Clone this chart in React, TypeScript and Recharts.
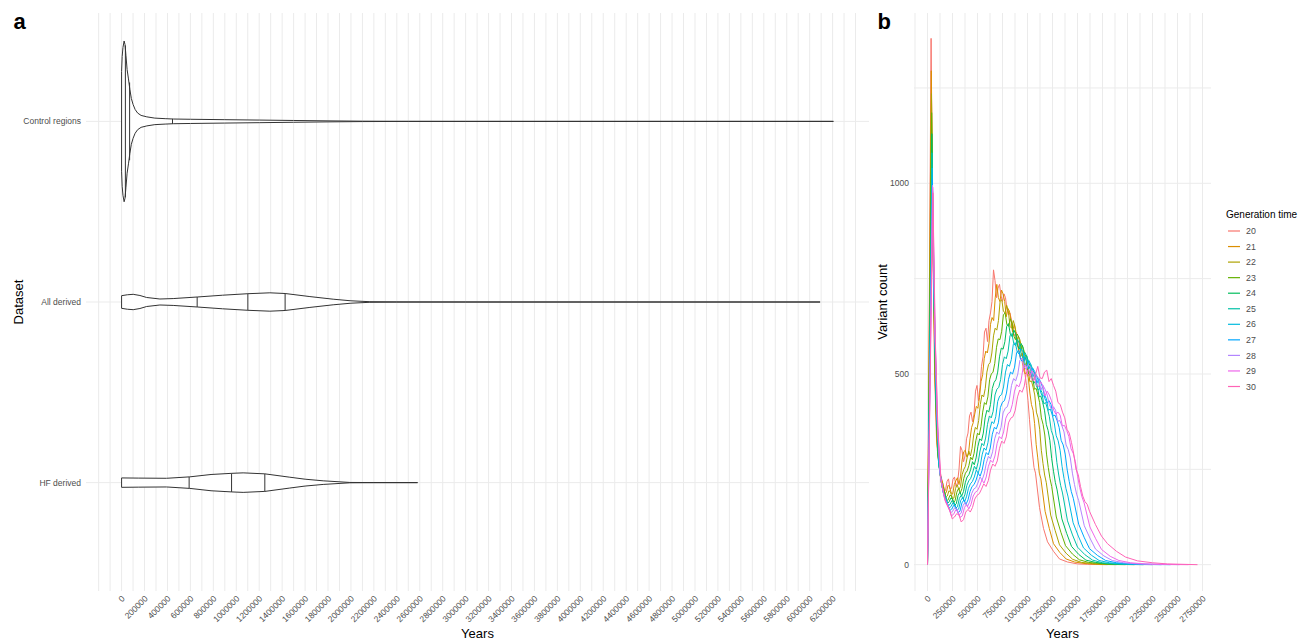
import React from 'react';
import { ComposedChart, LineChart, Line, Area, XAxis, YAxis, CartesianGrid } from 'recharts';

const FONT = '"Liberation Sans", Arial, Helvetica, sans-serif';
const TEXT_GREY = '#4D4D4D';
const GRID = '#EBEBEB';
const OUTLINE = '#333333';

// ---------- Panel a : violins ----------
const DATASETS = ['HF derived', 'All derived', 'Control regions']; // y positions 1,2,3
const YEARS_LABELS_A = [0, 200000, 400000, 600000, 800000, 1000000, 1200000, 1400000, 1600000, 1800000,
  2000000, 2200000, 2400000, 2600000, 2800000, 3000000, 3200000, 3400000, 3600000, 3800000, 4000000,
  4200000, 4400000, 4600000, 4800000, 5000000, 5200000, 5400000, 5600000, 5800000, 6000000, 6200000];

const CTRL_YEARS = [0, 5000, 12000, 22000, 30000, 38000, 48000, 60000, 72000, 85000, 100000, 118000, 140000,
  170000, 220000, 290000, 380000, 450000, 600000, 900000, 1200000, 1500000, 1800000, 2100000, 2500000, 3000000, 6207000];
const CTRL_HALF = [0.276, 0.359, 0.409, 0.445, 0.425, 0.365, 0.287, 0.235, 0.177, 0.127, 0.094, 0.066, 0.046,
  0.033, 0.025, 0.018, 0.015, 0.013, 0.0116, 0.0094, 0.0072, 0.005, 0.0028, 0.0011, 0.0003, 0, 0];
const CTRL_Q = [33000, 70000, 444000];
const CTRL_QW = [0.42, 0.215, 0.0135];

const ALL_YEARS = [0, 50000, 101000, 160000, 218000, 334000, 450000, 659000, 880000, 1101000, 1293000, 1426000,
  1642000, 1845000, 2000000, 2165000, 2400000, 3000000, 6091000];
const ALL_HALF = [0.035, 0.040, 0.0425, 0.036, 0.025, 0.0166, 0.019, 0.0276, 0.0376, 0.0459, 0.0508, 0.047,
  0.030, 0.0155, 0.0066, 0.0017, 0.0006, 0, 0];
const ALL_Q = [659000, 1101000, 1426000];
const ALL_QW = [0.0276, 0.0459, 0.047];

const HF_YEARS = [0, 150000, 392000, 595000, 780000, 959000, 1060000, 1249000, 1467000, 1600000, 1758000,
  1990000, 2200000, 2581000];
const HF_HALF = [0.026, 0.025, 0.024, 0.032, 0.045, 0.0514, 0.054, 0.0486, 0.030, 0.019, 0.010, 0.001, 0.0003, 0];
const HF_Q = [589000, 959000, 1249000];
const HF_QW = [0.0315, 0.0514, 0.0486];

// ---------- Panel b : variant counts ----------
const GEN_TIMES = [20, 21, 22, 23, 24, 25, 26, 27, 28, 29, 30];
const HUES = ['#F8766D', '#DB8E00', '#AEA200', '#64B200', '#00BD5C', '#00C1A7', '#00BADE', '#00A6FF', '#B385FF', '#EF67EB', '#FF63B6'];
// bin positions in thousands of generations (years = generations x generation time)
const GEN_K = [0, 1.8, 2.6, 3.5, 4.5, 6, 7.5, 8.25, 9, 9.75, 10.5, 11.25, 12, 12.75, 13.5, 14.25, 15, 15.75,
  16.5, 17.25, 18, 18.75, 19.5, 20.25, 21, 21.75, 22.5, 23.25, 24, 24.75, 25.5, 26.25, 27, 27.75, 28.5, 29.25,
  30, 30.75, 31.5, 32.25, 33, 33.75, 34.5, 35.25, 36, 36.75, 37.5, 38.25, 39, 39.75, 40.5, 41.25, 42, 42.75,
  43.5, 44.25, 45, 45.75, 46.5, 47.25, 48, 48.75, 49.5, 50.25, 51, 51.75, 52.5, 53.25, 54, 56, 58, 60, 63, 66,
  70, 75, 80, 90];
const COUNT_20 = [0, 1380, 880, 520, 330, 250, 215, 190, 195, 218, 225, 198, 200, 224, 230, 205, 215, 250, 310, 300, 270, 285, 330, 345, 390, 400, 375, 395, 455, 470, 430, 465, 520, 545, 610, 620, 585, 640, 660, 690, 773, 745, 700, 725, 735, 705, 690, 710, 700, 670, 655, 660, 640, 610, 600, 610, 590, 560, 540, 535, 510, 500, 470, 430, 380, 330, 290, 255, 240, 150, 95, 60, 35, 15, 7, 2, 1, 0];
const COUNT_21 = [0, 1295, 850, 500, 320, 235, 210, 185, 190, 208, 205, 188, 185, 210, 220, 228, 210, 232, 275, 296, 300, 282, 290, 330, 360, 372, 395, 415, 410, 438, 480, 498, 540, 560, 555, 580, 630, 648, 640, 700, 735, 700, 690, 720, 710, 690, 650, 672, 665, 642, 610, 630, 615, 580, 560, 545, 555, 535, 500, 505, 490, 450, 420, 405, 370, 315, 280, 240, 225, 140, 95, 55, 32, 15, 7, 3, 1, 0];
const COUNT_22 = [0, 1235, 810, 480, 300, 225, 200, 176, 180, 194, 190, 172, 175, 200, 210, 196, 205, 236, 250, 258, 280, 298, 285, 305, 340, 360, 355, 378, 420, 445, 440, 462, 505, 525, 530, 555, 600, 620, 615, 640, 690, 695, 665, 660, 680, 665, 625, 620, 640, 625, 585, 598, 590, 570, 535, 520, 530, 515, 480, 482, 465, 445, 400, 385, 355, 300, 265, 235, 215, 130, 90, 52, 30, 14, 6, 3, 1, 0];
const COUNT_23 = [0, 1185, 770, 455, 290, 215, 190, 168, 170, 182, 180, 162, 168, 190, 200, 188, 200, 226, 240, 246, 260, 282, 275, 292, 325, 345, 340, 362, 400, 425, 420, 440, 485, 500, 505, 528, 570, 592, 590, 612, 655, 660, 630, 625, 645, 632, 600, 590, 605, 596, 560, 575, 560, 545, 510, 495, 505, 492, 460, 462, 445, 425, 385, 368, 340, 290, 255, 226, 205, 125, 85, 50, 28, 13, 6, 3, 1, 0];
const COUNT_24 = [0, 1130, 735, 435, 275, 205, 180, 160, 165, 175, 172, 155, 160, 182, 190, 180, 192, 215, 230, 236, 250, 270, 262, 280, 310, 330, 325, 345, 385, 405, 400, 420, 462, 478, 485, 505, 545, 568, 565, 585, 625, 632, 605, 598, 615, 605, 575, 565, 580, 570, 535, 548, 535, 520, 490, 475, 482, 470, 440, 442, 425, 405, 368, 352, 325, 278, 245, 216, 196, 120, 82, 48, 27, 12, 6, 2, 1, 0];
const COUNT_25 = [0, 1080, 705, 420, 265, 198, 172, 154, 158, 168, 165, 148, 152, 174, 182, 172, 185, 208, 220, 226, 240, 258, 250, 268, 298, 318, 312, 332, 368, 390, 385, 402, 445, 460, 465, 485, 525, 545, 540, 560, 600, 606, 580, 574, 590, 580, 550, 542, 556, 546, 512, 525, 515, 500, 470, 458, 462, 452, 422, 425, 408, 388, 352, 338, 312, 268, 235, 208, 188, 115, 78, 46, 26, 12, 5, 2, 1, 0];
const COUNT_26 = [0, 1040, 680, 405, 255, 190, 165, 148, 152, 162, 158, 142, 146, 168, 176, 165, 178, 200, 212, 218, 230, 248, 240, 258, 288, 306, 300, 320, 355, 375, 370, 388, 428, 442, 446, 466, 505, 525, 520, 538, 578, 582, 558, 552, 566, 558, 528, 520, 535, 525, 492, 505, 495, 480, 452, 440, 445, 435, 405, 408, 392, 372, 338, 325, 300, 258, 226, 200, 180, 110, 75, 44, 25, 11, 5, 2, 1, 0];
const COUNT_27 = [0, 1010, 655, 390, 245, 183, 158, 142, 146, 156, 152, 136, 140, 162, 170, 158, 170, 192, 205, 210, 222, 240, 232, 248, 276, 294, 288, 306, 342, 360, 356, 372, 412, 426, 430, 450, 486, 505, 500, 518, 556, 562, 538, 532, 545, 538, 508, 502, 515, 506, 475, 488, 478, 462, 435, 424, 430, 420, 390, 392, 378, 360, 326, 314, 290, 248, 218, 192, 174, 106, 72, 42, 24, 11, 5, 2, 1, 0];
const COUNT_28 = [0, 995, 630, 375, 236, 176, 152, 136, 140, 150, 146, 130, 135, 156, 164, 152, 164, 186, 198, 202, 214, 230, 222, 238, 266, 284, 278, 296, 330, 348, 342, 360, 398, 410, 414, 434, 470, 488, 482, 500, 536, 542, 518, 512, 525, 518, 490, 484, 496, 488, 458, 470, 460, 445, 420, 408, 414, 405, 376, 378, 364, 348, 314, 302, 280, 240, 210, 185, 168, 102, 70, 41, 23, 11, 5, 2, 1, 0];
const COUNT_29 = [0, 990, 610, 362, 228, 170, 146, 128, 132, 144, 140, 124, 128, 150, 158, 146, 158, 180, 190, 194, 206, 222, 214, 230, 258, 274, 268, 285, 318, 336, 330, 348, 384, 396, 400, 420, 455, 472, 466, 482, 518, 524, 500, 495, 508, 500, 472, 466, 480, 470, 442, 455, 445, 430, 405, 395, 400, 392, 364, 365, 352, 336, 304, 292, 270, 232, 202, 178, 162, 99, 68, 40, 22, 11, 5, 2, 1, 0];
const COUNT_30 = [0, 975, 590, 350, 222, 165, 140, 120, 125, 134, 130, 112, 118, 138, 145, 138, 150, 172, 182, 186, 198, 212, 205, 220, 248, 264, 258, 272, 305, 324, 318, 335, 372, 384, 388, 405, 440, 458, 452, 468, 505, 512, 488, 482, 498, 520, 490, 488, 505, 510, 480, 488, 470, 455, 425, 420, 400, 385, 355, 345, 320, 290, 250, 236, 205, 180, 165, 158, 140, 105, 75, 55, 35, 20, 10, 5, 2, 0];
const COUNTS = [COUNT_20, COUNT_21, COUNT_22, COUNT_23, COUNT_24, COUNT_25, COUNT_26, COUNT_27, COUNT_28, COUNT_29, COUNT_30];

const YEARS_LABELS_B = [0, 250000, 500000, 750000, 1000000, 1250000, 1500000, 1750000, 2000000, 2250000, 2500000, 2750000];
const COUNT_LABELS_B = [0, 500, 1000];

// ---------- derived tables ----------
const GRID_A = [-200000, -100000, ...YEARS_LABELS_A.flatMap((v) => [v, v + 100000]), 6400000];
const GRID_B_X = [-125000, ...YEARS_LABELS_B.flatMap((v) => [v, v + 125000])].filter((v) => v <= 2800000);
const GRID_B_Y = [0, 250, 500, 750, 1000, 1250];

type Violin = { name: string; c: number; xs: number[]; hw: number[]; q: number[]; qw: number[] };
const VIOLINS: Violin[] = [
  { name: 'Control regions', c: 3, xs: CTRL_YEARS, hw: CTRL_HALF, q: CTRL_Q, qw: CTRL_QW },
  { name: 'All derived', c: 2, xs: ALL_YEARS, hw: ALL_HALF, q: ALL_Q, qw: ALL_QW },
  { name: 'HF derived', c: 1, xs: HF_YEARS, hw: HF_HALF, q: HF_Q, qw: HF_QW },
];

const violinFill = (v: Violin) => v.xs.map((x, i) => ({ x, r: [v.c - v.hw[i], v.c + v.hw[i]] }));
const violinOutline = (v: Violin) => {
  const upper = v.xs.map((x, i) => ({ x, y: v.c + v.hw[i] }));
  const lower = v.xs.map((x, i) => ({ x, y: v.c - v.hw[i] })).reverse();
  return [...upper, ...lower, upper[0]];
};
const violinQuantiles = (v: Violin) =>
  v.q.map((x, i) => [{ x, y: v.c - v.qw[i] }, { x, y: v.c + v.qw[i] }]);

const SERIES = GEN_TIMES.map((g, si) => ({
  g,
  color: HUES[si],
  data: GEN_K.map((k, i) => ({ x: k * 1000 * g, y: COUNTS[si][i] })),
}));

// ---------- ticks ----------
const rotatedTick = (labels: number[]) => (props: any) => {
  const { x, y, payload } = props;
  const v = payload.value;
  if (!labels.includes(v)) return <g />;
  const ax = x - 0.5;
  return (
    <text x={ax} y={y} dy="0.71em" textAnchor="end" transform={`rotate(-45 ${ax} ${y})`}
      fontSize={8.5} fill={TEXT_GREY} fontFamily={FONT}>{String(v)}</text>
  );
};
const XTickA = rotatedTick(YEARS_LABELS_A);
const XTickB = rotatedTick(YEARS_LABELS_B);

const YTickA = (props: any) => {
  const { x, y, payload } = props;
  const label = DATASETS[payload.value - 1];
  return (
    <text x={x} y={y} dy="0.35em" textAnchor="end" fontSize={8.5} fill={TEXT_GREY} fontFamily={FONT}>{label}</text>
  );
};
const YTickB = (props: any) => {
  const { x, y, payload } = props;
  if (!COUNT_LABELS_B.includes(payload.value)) return <g />;
  return (
    <text x={x} y={y} dy="0.35em" textAnchor="end" fontSize={8.5} fill={TEXT_GREY} fontFamily={FONT}>{String(payload.value)}</text>
  );
};

export default function App() {
  return (
    <div style={{ position: 'absolute', left: 0, top: 0, width: 1309, height: 643, background: '#ffffff', fontFamily: FONT }}>
      <div style={{ position: 'absolute', left: 0, top: 0 }}>
        <ComposedChart width={880} height={643} margin={{ top: 13, right: 11, bottom: 0, left: 0 }}>
          <CartesianGrid stroke={GRID} strokeWidth={1} syncWithTicks />
          <XAxis dataKey="x" type="number" domain={[-310350, 6517350]} allowDataOverflow ticks={GRID_A}
            interval={0} axisLine={false} tickLine={false} tickSize={0} tickMargin={4} height={52} tick={XTickA} />
          <YAxis type="number" domain={[0.4, 3.6]} allowDataOverflow ticks={[1, 2, 3]} interval={0}
            axisLine={false} tickLine={false} tickSize={0} tickMargin={5} width={86} tick={YTickA} />
          {VIOLINS.map((v) => (
            <Area key={`fill-${v.name}`} data={violinFill(v)} dataKey="r" type="linear" stroke="none"
              fill="#ffffff" fillOpacity={1} isAnimationActive={false} />
          ))}
          {VIOLINS.map((v) => (
            <Line key={`out-${v.name}`} data={violinOutline(v)} dataKey="y" type="linear" stroke={OUTLINE}
              strokeWidth={1} dot={false} activeDot={false} isAnimationActive={false} />
          ))}
          {VIOLINS.flatMap((v) =>
            violinQuantiles(v).map((seg, i) => (
              <Line key={`q-${v.name}-${i}`} data={seg} dataKey="y" type="linear" stroke={OUTLINE}
                strokeWidth={1} dot={false} activeDot={false} isAnimationActive={false} />
            ))
          )}
        </ComposedChart>
      </div>
      <div style={{ position: 'absolute', left: 860, top: 0 }}>
        <LineChart width={449} height={643} margin={{ top: 13, right: 98, bottom: 0, left: 0 }}>
          <CartesianGrid stroke={GRID} strokeWidth={1} syncWithTicks />
          <XAxis dataKey="x" type="number" domain={[-135000, 2835000]} allowDataOverflow ticks={GRID_B_X}
            interval={0} axisLine={false} tickLine={false} tickSize={0} tickMargin={4} height={52} tick={XTickB} />
          <YAxis type="number" domain={[-69, 1446.5]} allowDataOverflow ticks={GRID_B_Y} interval={0}
            axisLine={false} tickLine={false} tickSize={0} tickMargin={5} width={54} tick={YTickB} />
          {SERIES.map((s) => (
            <Line key={`s-${s.g}`} data={s.data} dataKey="y" type="linear" stroke={s.color} strokeWidth={1}
              dot={false} activeDot={false} isAnimationActive={false} />
          ))}
        </LineChart>
      </div>
      <svg width={1309} height={643} style={{ position: 'absolute', left: 0, top: 0, pointerEvents: 'none' }}>
        <text x={13.5} y={28.5} fontSize={22} fontWeight="bold" fontFamily={FONT} fill="#000">a</text>
        <text x={877.5} y={28.5} fontSize={22} fontWeight="bold" fontFamily={FONT} fill="#000">b</text>
        <text x={477.5} y={638} fontSize={13} textAnchor="middle" fontFamily={FONT} fill="#000">Years</text>
        <text x={1062.5} y={638} fontSize={13} textAnchor="middle" fontFamily={FONT} fill="#000">Years</text>
        <text x={22.5} y={302} fontSize={13} textAnchor="middle" fontFamily={FONT} fill="#000"
          transform="rotate(-90 22.5 302)">Dataset</text>
        <text x={886.5} y={302} fontSize={13} textAnchor="middle" fontFamily={FONT} fill="#000"
          transform="rotate(-90 886.5 302)">Variant count</text>
        <text x={1226} y={218} fontSize={10} fontFamily={FONT} fill="#000">Generation time</text>
        {SERIES.map((s, i) => {
          const cy = 231 + i * 15.55;
          return (
            <g key={`lg-${s.g}`}>
              <line x1={1228} x2={1240} y1={cy} y2={cy} stroke={s.color} strokeWidth={1.2} />
              <text x={1246} y={cy + 3.1} fontSize={8.8} fontFamily={FONT} fill={TEXT_GREY}>{String(s.g)}</text>
            </g>
          );
        })}
      </svg>
    </div>
  );
}
